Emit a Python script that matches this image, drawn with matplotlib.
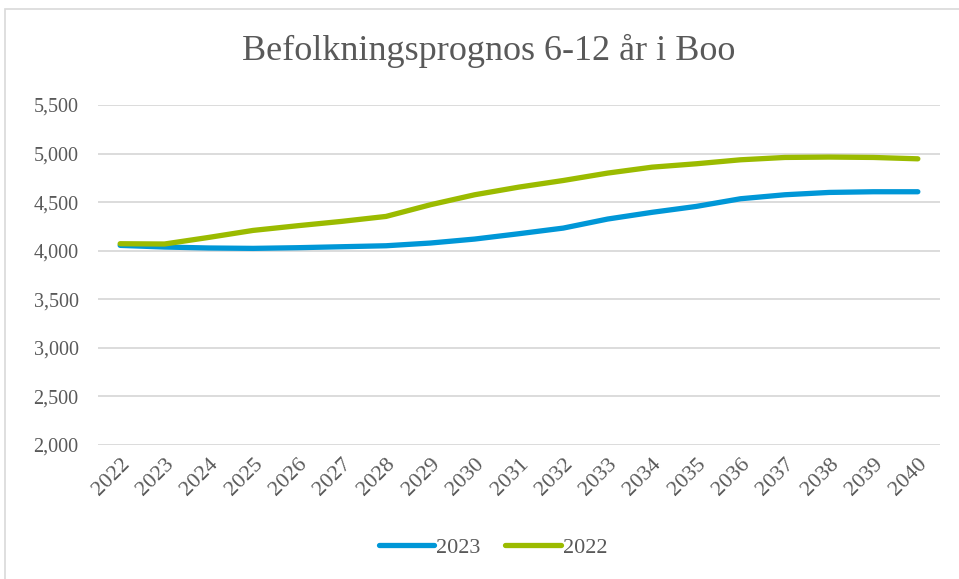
import matplotlib
matplotlib.use("Agg")
import matplotlib.pyplot as plt
from matplotlib.patches import Rectangle
from matplotlib.ticker import FuncFormatter

years = [str(y) for y in range(2022, 2041)]
series_2023 = [4055, 4038, 4028, 4024, 4031, 4041, 4051, 4079, 4120, 4175,
               4233, 4326, 4395, 4456, 4535, 4576, 4600, 4607, 4607]
series_2022 = [4072, 4069, 4137, 4209, 4257, 4302, 4353, 4473, 4576, 4655,
               4723, 4799, 4860, 4895, 4936, 4960, 4964, 4960, 4946]
title = "Befolkningsprognos 6-12 år i Boo"

plt.rcParams['font.family'] = ['Liberation Serif', 'DejaVu Serif']
gray = '#595959'

fig = plt.figure(figsize=(9.59, 5.79), dpi=100)
fig.patches.append(Rectangle((5/959, -0.1), 1.2, (1 - 9/579) + 0.1,
                             transform=fig.transFigure, fill=False,
                             edgecolor='#D9D9D9', linewidth=1.2))
ax = fig.add_axes([98/959, 1 - 445/579, (940 - 98)/959, (445 - 105)/579])

x = list(range(len(years)))
ax.plot(x, series_2023, color='#0097D7', lw=3.8, solid_capstyle='round',
        solid_joinstyle='round', label='2023')
ax.plot(x, series_2022, color='#9BBB00', lw=3.8, solid_capstyle='round',
        solid_joinstyle='round', label='2022')

ax.set_xlim(-0.5, len(years) - 0.5)
ax.set_ylim(2000, 5500)
ax.set_yticks(range(2000, 5501, 500))
ax.yaxis.set_major_formatter(FuncFormatter(lambda v, p: f"{int(v):,}"))
ax.set_xticks(x)
ax.set_xticklabels(years, rotation=45, ha='right', va='top',
                   rotation_mode='anchor')
ax.tick_params(axis='both', length=0, colors=gray)
ax.tick_params(axis='y', pad=14, labelsize=14.5)
ax.tick_params(axis='x', pad=7, labelsize=16)
for s in ax.spines.values():
    s.set_visible(False)
ax.grid(axis='y', color='#D9D9D9', lw=1.3)
ax.set_axisbelow(True)

fig.text(489/959, 1 - 51/579, title, ha='center', va='center', fontsize=26,
         color=gray)

leg = fig.legend(loc='center', bbox_to_anchor=(493/959, 1 - 548/579), ncol=2,
                 frameon=False, fontsize=16, handlelength=2.5,
                 handletextpad=0.1, columnspacing=1.1, labelcolor=gray)

fig.savefig('out.png', dpi=100)
